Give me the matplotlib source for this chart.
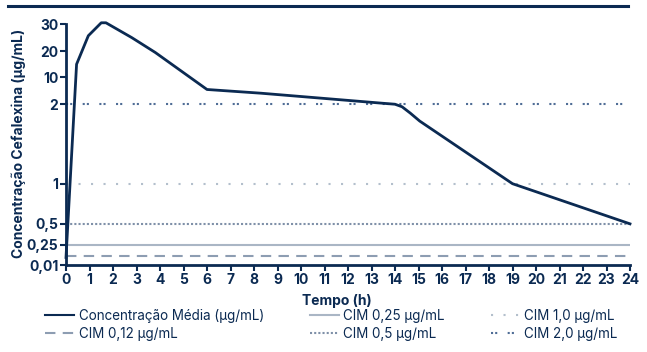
import numpy as np
import matplotlib
matplotlib.use("Agg")
import matplotlib.pyplot as plt
from matplotlib.lines import Line2D

# ---- data ----
time_h = [0, 0.45, 0.95, 1.5, 1.7, 2.8, 3.8, 6.0, 8.3, 13.45, 14.0, 14.3, 14.65, 15.05, 19.0, 24]
conc = [0.1, 15, 25.7, 30.5, 30.5, 25.0, 19.5, 6.4, 5.3, 2.35, 2.05, 1.97, 1.89, 1.79, 1.0, 0.5]

ytick_vals = [0.01, 0.25, 0.5, 1, 2, 10, 20, 30]
ytick_labels = ["0,01", "0,25", "0,5", "1", "2", "10", "20", "30"]
xticks = list(range(0, 25))

mic_vals = [0.12, 0.25, 0.5, 1.0, 2.0]
mic_labels = ["CIM 0,12 µg/mL", "CIM 0,25 µg/mL", "CIM 0,5 µg/mL", "CIM 1,0 µg/mL", "CIM 2,0 µg/mL"]
curve_label = "Concentração Média (µg/mL)"

# ---- piecewise axis scale (pixel-like positions of the tick values) ----
scale_vals = np.array([0.0, 0.01, 0.25, 0.5, 1, 2, 10, 20, 30, 100])
scale_pos = np.array([-0.83, 0, 20, 41, 81, 160, 187, 213, 240, 422])

def fwd(v):
    return np.interp(v, scale_vals, scale_pos)

def inv(p):
    return np.interp(p, scale_pos, scale_vals)

navy = "#0b2a52"
plt.rcParams['font.family'] = ['Inter', 'DejaVu Sans']

fig = plt.figure(figsize=(6.47, 3.52), dpi=100)
ax = fig.add_axes([66/647, 87/352, (630-66)/647, (265-22)/352])
ax.set_yscale('function', functions=(fwd, inv))

mic_styles = [
    dict(color="#8d9db2", linestyle=(0, (5, 3.5)), linewidth=1.5),
    dict(color="#aab6c5", linestyle="-", linewidth=1.5),
    dict(color="#7f90a8", linestyle=(0, (1, 1)), linewidth=1.5),
    dict(color="#b3bfcc", linestyle=(0, (1, 5)), linewidth=1.5),
    dict(color="#4f6d96", linestyle=(0, (1, 1, 1, 5)), linewidth=1.5),
]

handles = [Line2D([], [], color=navy, linewidth=1.5)]
for v, st in zip(mic_vals, mic_styles):
    ax.plot([0, 24], [v, v], **st, zorder=2)
    handles.append(Line2D([], [], **st))

ax.plot(time_h, conc, color=navy, linewidth=2, zorder=3, clip_on=False, solid_joinstyle='round')

ax.set_xlim(0, 24)
ax.set_ylim(0.01, 30.8)
ax.set_xticks(xticks)
ax.set_xticklabels([str(t) for t in xticks])
ax.set_yticks(ytick_vals)
ax.set_yticklabels(ytick_labels)
ax.minorticks_off()

for s in ['top', 'right']:
    ax.spines[s].set_visible(False)
for s in ['left', 'bottom']:
    ax.spines[s].set_color(navy)
    ax.spines[s].set_linewidth(2)
ax.spines['left'].set_bounds(0.01, 30)
ax.tick_params(axis='both', colors=navy, width=1.5, length=4, labelsize=10, pad=1.5)
for lab in ax.get_xticklabels() + ax.get_yticklabels():
    lab.set_fontweight('bold')

ax.set_xlabel("Tempo (h)", fontsize=10, fontweight='bold', color=navy)
ax.xaxis.set_label_coords(0.48, -0.12)
ax.set_ylabel("Concentração Cefalexina (µg/mL)", fontsize=10, fontweight='bold', color=navy)
ax.yaxis.set_label_coords(-0.071, 0.5)

labels = [curve_label] + mic_labels
leg = fig.legend(handles, labels, ncol=3, loc='lower left', bbox_to_anchor=(45/647, 11/352),
                 frameon=False, fontsize=9.7, handlelength=2.15, handletextpad=0.35,
                 columnspacing=3.4, labelspacing=0.3, borderpad=0, borderaxespad=0)
for t in leg.get_texts():
    t.set_color(navy)

fig.add_artist(Line2D([8/647, 628/647], [346/352, 346/352], color=navy, linewidth=2.2))

fig.savefig("out.png", dpi=100)
